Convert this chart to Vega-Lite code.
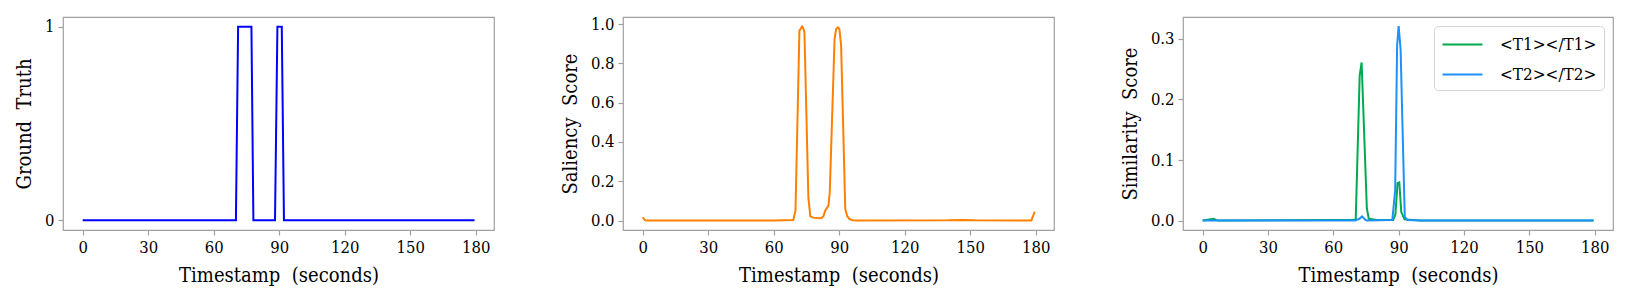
{
  "$schema": "https://vega.github.io/schema/vega-lite/v6.json",
  "background": "white",
  "padding": {"left": 13, "top": 15, "right": 5, "bottom": 5},
  "spacing": 129,
  "bounds": "flush",
  "resolve": {"legend": {"color": "independent"}, "scale": {"color": "independent"}},
  "config": {
    "font": "DejaVu Serif Condensed",
    "view": {"stroke": "#a0a0a0", "strokeWidth": 1.2},
    "axis": {
      "labelFont": "DejaVu Serif Condensed",
      "titleFont": "DejaVu Serif Condensed",
      "labelFontSize": 16.5,
      "titleFontSize": 20,
      "titleFontWeight": "normal",
      "labelColor": "black",
      "titleColor": "black",
      "tickColor": "#a0a0a0",
      "tickWidth": 1.2,
      "tickSize": 5,
      "domain": false,
      "grid": false,
      "labelPadding": 4,
      "titlePadding": 10
    },
    "legend": {
      "labelFont": "DejaVu Serif Condensed",
      "labelFontSize": 17,
      "labelColor": "black"
    }
  },
  "datasets": {
    "gt": [
      {"t": 0, "v": 0}, {"t": 70.2, "v": 0}, {"t": 71.2, "v": 1}, {"t": 77.3, "v": 1},
      {"t": 78.2, "v": 0}, {"t": 88.1, "v": 0}, {"t": 89.2, "v": 1}, {"t": 91.2, "v": 1},
      {"t": 92.2, "v": 0}, {"t": 179.5, "v": 0}
    ],
    "sal": [
      {"t": 0, "v": 0.017}, {"t": 1, "v": 0.002}, {"t": 2, "v": 0.0}, {"t": 60, "v": 0.0},
      {"t": 69, "v": 0.003}, {"t": 70, "v": 0.05}, {"t": 71.8, "v": 0.966}, {"t": 73, "v": 0.988},
      {"t": 73.6, "v": 0.978}, {"t": 74.1, "v": 0.958}, {"t": 75.9, "v": 0.118}, {"t": 76.8, "v": 0.022},
      {"t": 78, "v": 0.015}, {"t": 80, "v": 0.013}, {"t": 81.8, "v": 0.012}, {"t": 82.8, "v": 0.022},
      {"t": 83.6, "v": 0.05}, {"t": 85.1, "v": 0.076}, {"t": 85.7, "v": 0.144}, {"t": 87.9, "v": 0.924},
      {"t": 88.6, "v": 0.975}, {"t": 89.4, "v": 0.983}, {"t": 90.1, "v": 0.975}, {"t": 90.9, "v": 0.89},
      {"t": 92.8, "v": 0.059}, {"t": 93.7, "v": 0.022}, {"t": 94.7, "v": 0.008}, {"t": 96, "v": 0.002},
      {"t": 98, "v": 0.0}, {"t": 140, "v": 0.001}, {"t": 146, "v": 0.003}, {"t": 152, "v": 0.001},
      {"t": 178, "v": 0.0}, {"t": 179.6, "v": 0.046}
    ],
    "sim": [
      {"s": "<T1></T1>", "t": 0, "v": 0.0}, {"s": "<T1></T1>", "t": 3, "v": 0.002},
      {"s": "<T1></T1>", "t": 5, "v": 0.003}, {"s": "<T1></T1>", "t": 7, "v": 0.0},
      {"s": "<T1></T1>", "t": 55, "v": 0.001}, {"s": "<T1></T1>", "t": 69, "v": 0.001},
      {"s": "<T1></T1>", "t": 70.3, "v": 0.002}, {"s": "<T1></T1>", "t": 72.1, "v": 0.239},
      {"s": "<T1></T1>", "t": 73, "v": 0.261}, {"s": "<T1></T1>", "t": 75.4, "v": 0.02},
      {"s": "<T1></T1>", "t": 76.3, "v": 0.003}, {"s": "<T1></T1>", "t": 80, "v": 0.001},
      {"s": "<T1></T1>", "t": 87.5, "v": 0.001}, {"s": "<T1></T1>", "t": 88.5, "v": 0.01},
      {"s": "<T1></T1>", "t": 89.5, "v": 0.062}, {"s": "<T1></T1>", "t": 90.3, "v": 0.063},
      {"s": "<T1></T1>", "t": 91.2, "v": 0.014}, {"s": "<T1></T1>", "t": 92.7, "v": 0.002},
      {"s": "<T1></T1>", "t": 100, "v": 0.0}, {"s": "<T1></T1>", "t": 179.5, "v": 0.0},
      {"s": "<T2></T2>", "t": 0, "v": 0.0}, {"s": "<T2></T2>", "t": 70, "v": 0.0},
      {"s": "<T2></T2>", "t": 72, "v": 0.003}, {"s": "<T2></T2>", "t": 73.2, "v": 0.007},
      {"s": "<T2></T2>", "t": 74.5, "v": 0.002}, {"s": "<T2></T2>", "t": 75.3, "v": 0.0},
      {"s": "<T2></T2>", "t": 87.1, "v": 0.001}, {"s": "<T2></T2>", "t": 88.4, "v": 0.05},
      {"s": "<T2></T2>", "t": 89.3, "v": 0.29}, {"s": "<T2></T2>", "t": 90, "v": 0.321},
      {"s": "<T2></T2>", "t": 90.9, "v": 0.282}, {"s": "<T2></T2>", "t": 92.8, "v": 0.006},
      {"s": "<T2></T2>", "t": 94, "v": 0.001}, {"s": "<T2></T2>", "t": 100, "v": 0.0},
      {"s": "<T2></T2>", "t": 179.4, "v": 0.0}
    ]
  },
  "hconcat": [
    {
      "width": 431, "height": 213,
      "data": {"name": "gt"},
      "mark": {"type": "line", "color": "#0000ff", "strokeWidth": 2},
      "encoding": {
        "x": {"field": "t", "type": "quantitative",
          "scale": {"domain": [-9, 188.4], "nice": false, "zero": false},
          "axis": {"values": [0, 30, 60, 90, 120, 150, 180], "title": "Timestamp\u00a0 (seconds)"}},
        "y": {"field": "v", "type": "quantitative",
          "scale": {"domain": [-0.05, 1.05], "nice": false, "zero": false},
          "axis": {"values": [0, 1], "format": "d", "title": "Ground\u00a0 Truth"}}
      }
    },
    {
      "width": 431, "height": 213,
      "data": {"name": "sal"},
      "mark": {"type": "line", "color": "#ff8000", "strokeWidth": 2},
      "encoding": {
        "x": {"field": "t", "type": "quantitative",
          "scale": {"domain": [-9, 188.4], "nice": false, "zero": false},
          "axis": {"values": [0, 30, 60, 90, 120, 150, 180], "title": "Timestamp\u00a0 (seconds)"}},
        "y": {"field": "v", "type": "quantitative",
          "scale": {"domain": [-0.048, 1.036], "nice": false, "zero": false},
          "axis": {"values": [0, 0.2, 0.4, 0.6, 0.8, 1.0], "format": ".1f", "title": "Saliency\u00a0 Score"}}
      }
    },
    {
      "width": 430, "height": 213,
      "data": {"name": "sim"},
      "mark": {"type": "line", "strokeWidth": 2},
      "encoding": {
        "x": {"field": "t", "type": "quantitative",
          "scale": {"domain": [-9, 188.4], "nice": false, "zero": false},
          "axis": {"values": [0, 30, 60, 90, 120, 150, 180], "title": "Timestamp\u00a0 (seconds)"}},
        "y": {"field": "v", "type": "quantitative",
          "scale": {"domain": [-0.0155, 0.336], "nice": false, "zero": false},
          "axis": {"values": [0, 0.1, 0.2, 0.3], "format": ".1f", "title": "Similarity\u00a0 Score"}},
        "color": {"field": "s", "type": "nominal",
          "scale": {"domain": ["<T1></T1>", "<T2></T2>"], "range": ["#00aa4f", "#1e90ff"]},
          "legend": {"orient": "top-right", "offset": 9, "title": null,
            "symbolType": "M-1,0H3", "symbolSize": 400, "symbolStrokeWidth": 2.2,
            "labelOffset": 36, "padding": 7, "rowPadding": 10,
            "strokeColor": "#d6d6d6", "fillColor": "white", "cornerRadius": 4}}
      }
    }
  ]
}
